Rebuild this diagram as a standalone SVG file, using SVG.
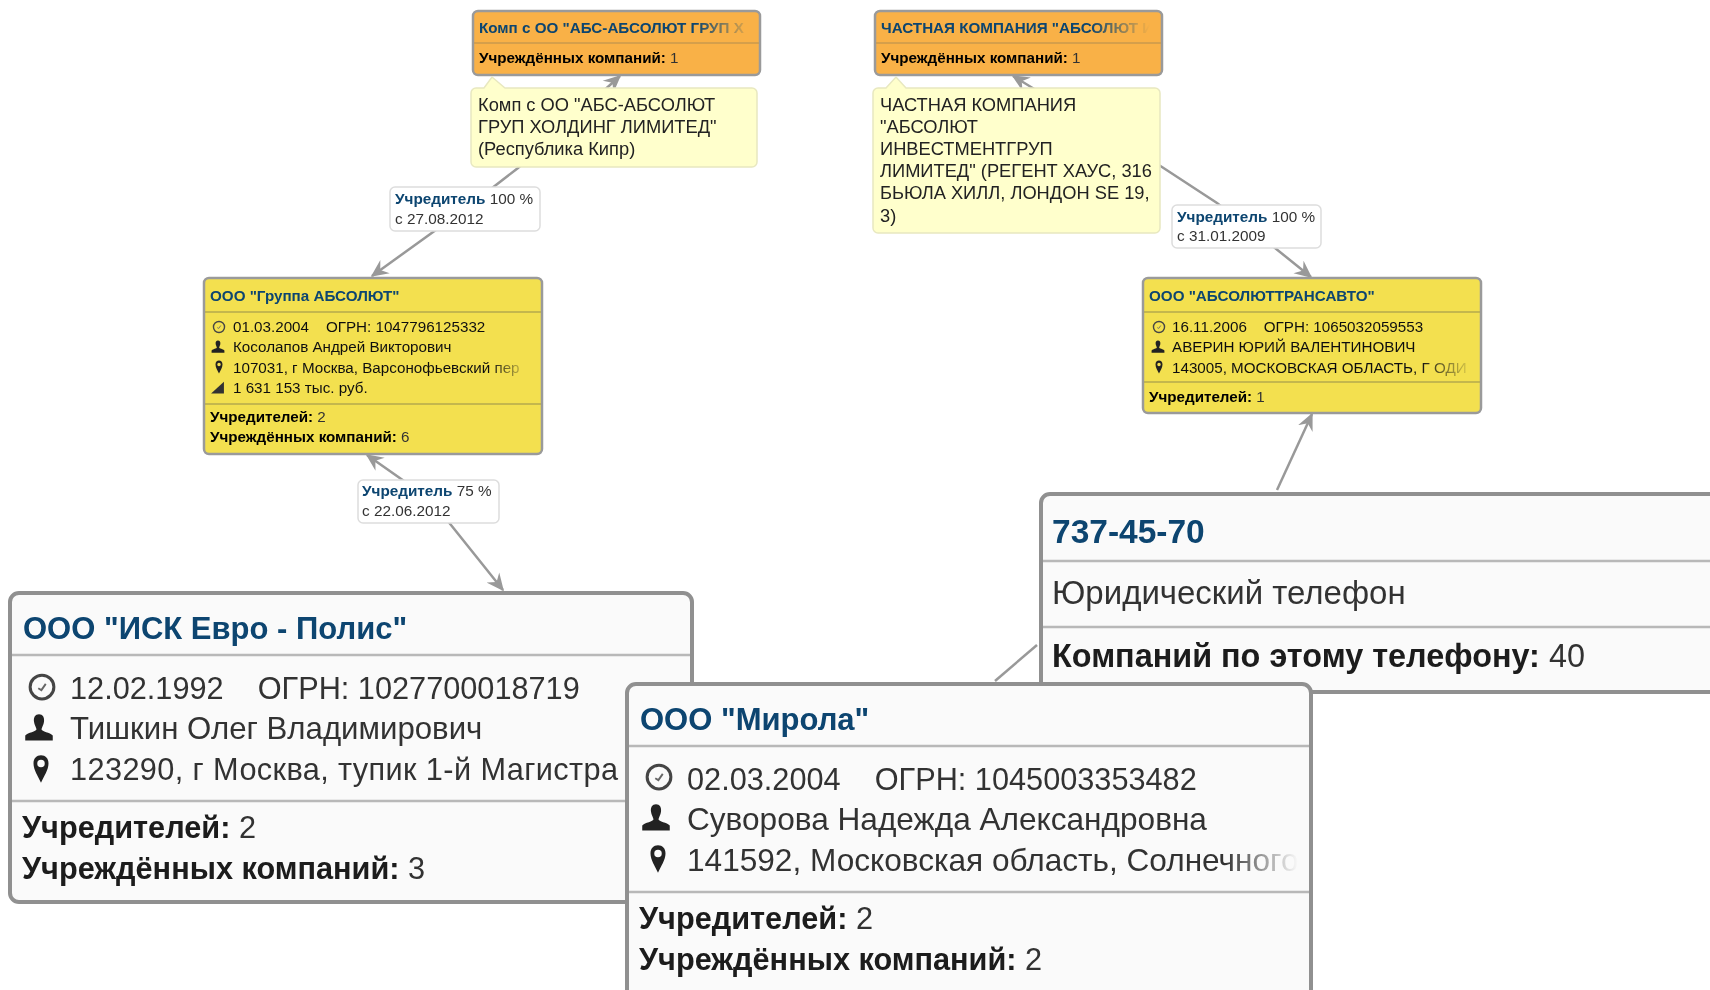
<svg xmlns="http://www.w3.org/2000/svg" width="1710" height="990" viewBox="0 0 1710 990">
<style>
text{font-family:"Liberation Sans",Arial,sans-serif;white-space:pre}
.box{stroke:#9a9a9a;stroke-width:2.5}
.org{fill:#f9b146}.yel{fill:#f3e04f}.big{fill:#fafafa;stroke-width:4;stroke:#909090}
.tip{fill:#ffffcc;stroke:#e8e8c0;stroke-width:1.5}
.lab{fill:#fff;stroke:#ddd;stroke-width:1.5}
.div{stroke:#b5a94e;stroke-width:1.5;fill:none}
.divo{stroke:#c99a4e;stroke-width:1.5;fill:none}
.divb{stroke:#b8b8b8;stroke-width:2.5;fill:none}
.edge{fill:none;stroke:#999;stroke-width:2.5;marker-start:url(#head);marker-end:url(#head)}
.t{fill:#0a4470;font-weight:700}
.s{font-size:15.2px;fill:#111}
.b{font-weight:700;fill:#000}
.st{font-size:15.2px}
.tt{font-size:18.3px;fill:#222}
.l{font-size:15.3px;fill:#333}
.lb{fill:#0a4470;font-weight:700}
.bt{font-size:31px}
.bs{font-size:30.7px;fill:#333}
.bb{font-size:30.7px;font-weight:700;fill:#1a1a1a}
.bn{font-weight:400;fill:#333}
</style>
<defs>
<filter id="soft"><feGaussianBlur stdDeviation="0.55"/></filter>
<filter id="softer"><feGaussianBlur stdDeviation="0.5"/></filter>
<marker id="head" viewBox="0 0 12 12" refX="11" refY="6" markerWidth="7" markerHeight="7" markerUnits="strokeWidth" orient="auto-start-reverse"><path d="M0,0.500 L12,6 L0,11.500 L4,6z" fill="#999"/></marker>
<linearGradient id="fo"><stop offset="0" stop-color="#f9b146" stop-opacity="0"/><stop offset="1" stop-color="#f9b146"/></linearGradient>
<linearGradient id="fy"><stop offset="0" stop-color="#f3e04f" stop-opacity="0"/><stop offset="1" stop-color="#f3e04f"/></linearGradient>
<linearGradient id="fb"><stop offset="0" stop-color="#fafafa" stop-opacity="0"/><stop offset="1" stop-color="#fafafa"/></linearGradient>
<symbol id="clock" viewBox="0 0 24 24"><circle cx="12" cy="12" r="9.500" fill="none" stroke="#444" stroke-width="2.400"/><path d="M9 13l2.500 1.500 3.500-5" fill="none" stroke="#666" stroke-width="1.500"/></symbol>
<symbol id="person" viewBox="0 0 24 24"><path d="M12 1c3 0 4.500 2.500 4 6-.4 2.500-1.500 4-2 6 0 2 7 2.500 9 5v4H1v-4c2-2.500 9-3 9-5C9.500 11 8.400 9.500 8 7c-.5-3.500 1-6 4-6z" fill="#222"/></symbol>
<symbol id="pin" viewBox="0 0 24 24"><path fill-rule="evenodd" d="M12 1c3.500 0 6 2.500 6 6.500 0 5-3.500 10-6 15.500C9.500 17.500 6 12.500 6 7.500 6 3.500 8.500 1 12 1zM12 4.500a3 3 0 1 0 0 6a3 3 0 0 0 0-6z" fill="#222"/></symbol>
<symbol id="bars" viewBox="0 0 24 24"><path d="M1 23L23 3v20z" fill="#333"/></symbol>
<clipPath id="c1"><rect x="474" y="12" width="284" height="62"/></clipPath>
<clipPath id="c2"><rect x="876" y="12" width="284" height="62"/></clipPath>
<clipPath id="c3"><rect x="205" y="279" width="335" height="172"/></clipPath>
<clipPath id="c4"><rect x="1145" y="279" width="334" height="132"/></clipPath>
<clipPath id="c5"><rect x="628" y="685" width="681" height="305"/></clipPath>
</defs>

<g id="connectors" filter="url(#softer)">
<path class="edge" d="M620,76 L518,168 L465,209 L372,276"/>
<path class="edge" d="M1013,76 L1162,167 L1217,203 L1275,248 L1311,277"/>
<path class="edge" d="M367,455 L431,500 L503,590"/>
<path class="edge" d="M1277,490 L1312,414" style="marker-start:none"/>
<path class="edge" d="M1037,645 L995,681" style="marker-start:none;marker-end:none"/>
</g>

<g id="node-abs-group" filter="url(#soft)">
<rect class="box org" x="473" y="11" width="287" height="64" rx="5"/>
<path class="divo" d="M474,43H759"/>
<g clip-path="url(#c1)"><text class="t st" x="479" y="33">Комп с ОО "АБС-АБСОЛЮТ ГРУП Х</text></g>
<rect x="695" y="14" width="58" height="28" fill="url(#fo)"/>
<text class="b st" x="479" y="63">Учреждённых компаний: <tspan class="bn">1</tspan></text>
</g>

<g id="tip-abs-group" filter="url(#soft)">
<path class="tip" d="M476,88H484L492,77L505,88H752a5,5 0 0 1 5,5V162a5,5 0 0 1-5,5H476a5,5 0 0 1-5-5V93a5,5 0 0 1 5-5z"/>
<text class="tt" x="478" y="111">Комп с ОО "АБС-АБСОЛЮТ</text>
<text class="tt" x="478" y="133">ГРУП ХОЛДИНГ ЛИМИТЕД"</text>
<text class="tt" x="478" y="155">(Республика Кипр)</text>
</g>

<g id="node-chastnaya" filter="url(#soft)">
<rect class="box org" x="875" y="11" width="287" height="64" rx="5"/>
<path class="divo" d="M876,43H1161"/>
<g clip-path="url(#c2)"><text class="t st" x="881" y="33">ЧАСТНАЯ КОМПАНИЯ "АБСОЛЮТ И</text></g>
<rect x="1090" y="14" width="60" height="28" fill="url(#fo)"/>
<rect x="1150" y="14" width="10" height="28" fill="#f9b146"/>
<text class="b st" x="881" y="63">Учреждённых компаний: <tspan class="bn">1</tspan></text>
</g>

<g id="tip-chastnaya" filter="url(#soft)">
<path class="tip" d="M878,88H886L896,77L906,88H1155a5,5 0 0 1 5,5V228a5,5 0 0 1-5,5H878a5,5 0 0 1-5-5V93a5,5 0 0 1 5-5z"/>
<text class="tt" x="880" y="111">ЧАСТНАЯ КОМПАНИЯ</text>
<text class="tt" x="880" y="133">"АБСОЛЮТ</text>
<text class="tt" x="880" y="155">ИНВЕСТМЕНТГРУП</text>
<text class="tt" x="880" y="177">ЛИМИТЕД" (РЕГЕНТ ХАУС, 316</text>
<text class="tt" x="880" y="199">БЬЮЛА ХИЛЛ, ЛОНДОН SE 19,</text>
<text class="tt" x="880" y="222">3)</text>
</g>

<g id="label-1" filter="url(#soft)">
<rect class="lab" x="390" y="187" width="150" height="44" rx="5"/>
<text class="l" x="395" y="204"><tspan class="lb">Учредитель</tspan> 100 %</text>
<text class="l" x="395" y="224">с 27.08.2012</text>
</g>

<g id="label-2" filter="url(#soft)">
<rect class="lab" x="1172" y="205" width="149" height="43" rx="5"/>
<text class="l" x="1177" y="222"><tspan class="lb">Учредитель</tspan> 100 %</text>
<text class="l" x="1177" y="241">с 31.01.2009</text>
</g>

<g id="label-3" filter="url(#soft)">
<rect class="lab" x="358" y="480" width="141" height="43" rx="5"/>
<text class="l" x="362" y="496"><tspan class="lb">Учредитель</tspan> 75 %</text>
<text class="l" x="362" y="516">с 22.06.2012</text>
</g>

<g id="node-gruppa" filter="url(#soft)">
<rect class="box yel" x="204" y="278" width="338" height="176" rx="5"/>
<path class="div" d="M205,312H541M205,404H541"/>
<text class="t st" x="210" y="301">ООО "Группа АБСОЛЮТ"</text>
<use href="#clock" x="212" y="320" width="14" height="14"/>
<use href="#person" x="211" y="340" width="14" height="14"/>
<use href="#pin" x="212" y="360" width="14" height="14"/>
<use href="#bars" x="210" y="380" width="15" height="14"/>
<g clip-path="url(#c3)">
<text class="s" x="233" y="332">01.03.2004    ОГРН: 1047796125332</text>
<text class="s" x="233" y="352">Косолапов Андрей Викторович</text>
<text class="s" x="233" y="373">107031, г Москва, Варсонофьевский пер</text>
<text class="s" x="233" y="393">1 631 153 тыс. руб.</text>
</g>
<rect x="490" y="360" width="40" height="20" fill="url(#fy)"/>
<rect x="530" y="360" width="10" height="20" fill="#f3e04f"/>
<text class="b st" x="210" y="422">Учредителей: <tspan class="bn">2</tspan></text>
<text class="b st" x="210" y="442">Учреждённых компаний: <tspan class="bn">6</tspan></text>
</g>

<g id="node-transavto" filter="url(#soft)">
<rect class="box yel" x="1143" y="278" width="338" height="135" rx="5"/>
<path class="div" d="M1144,312H1480M1144,382H1480"/>
<text class="t st" x="1149" y="301">ООО "АБСОЛЮТТРАНСАВТО"</text>
<use href="#clock" x="1152" y="320" width="14" height="14"/>
<use href="#person" x="1151" y="340" width="14" height="14"/>
<use href="#pin" x="1152" y="360" width="14" height="14"/>
<g clip-path="url(#c4)">
<text class="s" x="1172" y="332">16.11.2006    ОГРН: 1065032059553</text>
<text class="s" x="1172" y="352">АВЕРИН ЮРИЙ ВАЛЕНТИНОВИЧ</text>
<text class="s" x="1172" y="373">143005, МОСКОВСКАЯ ОБЛАСТЬ, Г ОДИ</text>
</g>
<rect x="1420" y="360" width="55" height="20" fill="url(#fy)"/>
<text class="b st" x="1149" y="402">Учредителей: <tspan class="bn">1</tspan></text>
</g>

<g id="node-isk" filter="url(#softer)">
<rect class="box big" x="10" y="593" width="682" height="309" rx="9"/>
<path class="divb" d="M12,655H690M12,801H690"/>
<text class="t bt" x="23" y="639">ООО "ИСК Евро - Полис"</text>
<use href="#clock" x="27" y="672" width="30" height="30"/>
<use href="#person" x="24" y="713" width="30" height="30"/>
<use href="#pin" x="26" y="754" width="30" height="30"/>
<text class="bs" x="70" y="699">12.02.1992    ОГРН: 1027700018719</text>
<text class="bs" x="70" y="739" style="font-size:31.2px">Тишкин Олег Владимирович</text>
<text class="bs" x="70" y="780" textLength="548">123290, г Москва, тупик 1-й Магистра</text>
<text class="bb" x="22" y="838">Учредителей: <tspan class="bn">2</tspan></text>
<text class="bb" x="22" y="879">Учреждённых компаний: <tspan class="bn">3</tspan></text>
</g>

<g id="node-phone" filter="url(#softer)">
<rect class="box big" x="1041" y="494" width="700" height="198" rx="9"/>
<path class="divb" d="M1043,561H1710M1043,627H1710"/>
<text class="t" font-size="33.500" x="1052" y="543">737-45-70</text>
<text class="bs" style="font-size:33px" x="1052" y="604">Юридический телефон</text>
<text class="bb" style="font-size:32.400px" x="1052" y="667">Компаний по этому телефону: <tspan class="bn">40</tspan></text>
</g>

<g id="node-mirola" filter="url(#softer)">
<rect class="box big" x="627" y="684" width="684" height="330" rx="9"/>
<path class="divb" d="M629,746H1309M629,892H1309"/>
<text class="t bt" x="640" y="730">ООО "Мирола"</text>
<use href="#clock" x="644" y="762" width="30" height="30"/>
<use href="#person" x="641" y="803" width="30" height="30"/>
<use href="#pin" x="643" y="844" width="30" height="30"/>
<g clip-path="url(#c5)">
<text class="bs" x="687" y="790">02.03.2004    ОГРН: 1045003353482</text>
<text class="bs" style="font-size:31.600px" x="687" y="830">Суворова Надежда Александровна</text>
<text class="bs" style="font-size:31.600px" x="687" y="871">141592, Московская область, Солнечного</text>
</g>
<rect x="1225" y="842" width="73" height="40" fill="url(#fb)"/>
<rect x="1298" y="842" width="10" height="40" fill="#fafafa"/>
<text class="bb" x="639" y="929">Учредителей: <tspan class="bn">2</tspan></text>
<text class="bb" x="639" y="970">Учреждённых компаний: <tspan class="bn">2</tspan></text>
</g>
</svg>
